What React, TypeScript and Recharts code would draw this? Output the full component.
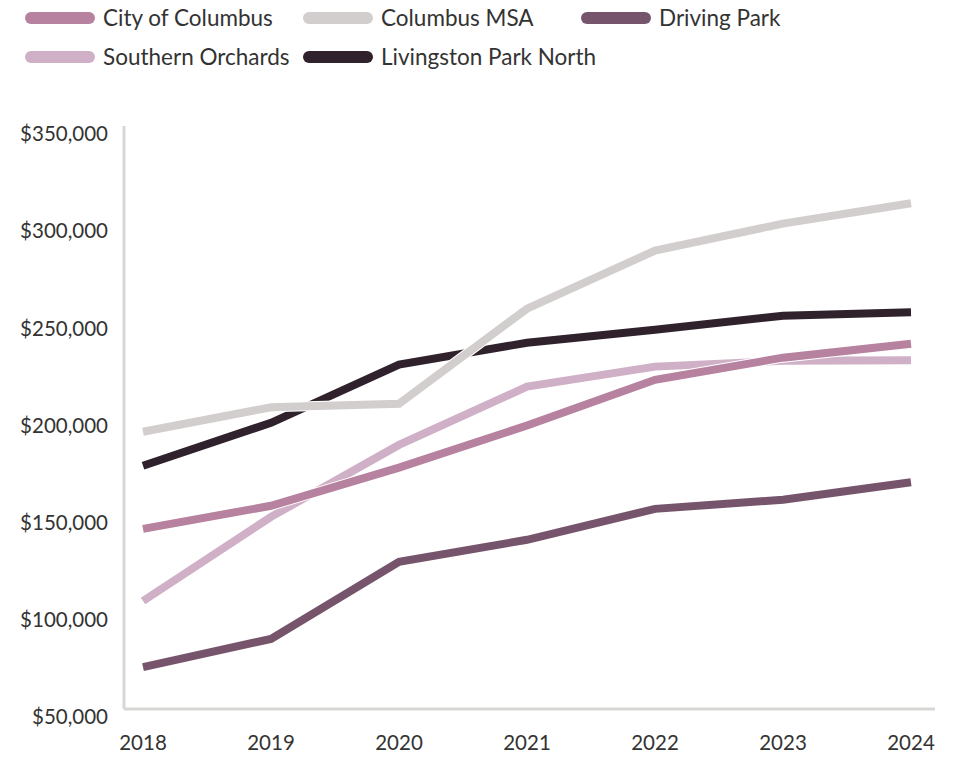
import React from "react";
import { LineChart, Line, XAxis, YAxis } from "recharts";

const years = ["2018", "2019", "2020", "2021", "2022", "2023", "2024"];
const cityOfColumbus = [146800, 158700, 178300, 200000, 223500, 234900, 242100];
const columbusMSA = [196800, 209400, 211200, 260100, 290000, 303900, 314400];
const drivingPark = [75700, 90200, 129800, 141200, 157100, 161800, 170800];
const southernOrchards = [109700, 153000, 190000, 220000, 230300, 233300, 233600];
const livingstonParkNorth = [179300, 201400, 231300, 242600, 249300, 256500, 258300];
const yTicks = [50000, 100000, 150000, 200000, 250000, 300000, 350000];

const series = [
  { key: "city", name: "City of Columbus", values: cityOfColumbus, color: "#b6829f" },
  { key: "msa", name: "Columbus MSA", values: columbusMSA, color: "#d2cecd" },
  { key: "driving", name: "Driving Park", values: drivingPark, color: "#76546c" },
  { key: "southern", name: "Southern Orchards", values: southernOrchards, color: "#cfb0c6" },
  { key: "livingston", name: "Livingston Park North", values: livingstonParkNorth, color: "#2f222d" },
];

const data = years.map((year, i) => {
  const row: Record<string, string | number> = { year };
  series.forEach((s) => {
    row[s.key] = s.values[i];
  });
  return row;
});

const FONT = "Lato, 'Noto Sans', sans-serif";
const TEXT = "#333333";
const AXIS = "#d7d7d3";

const fmt = (v: number) => "$" + v.toLocaleString("en-US");

export default function App() {
  const drawOrder = [...series].reverse();
  return (
    <div style={{ position: "absolute", left: 0, top: 0, width: 959, height: 757, background: "#fff", fontFamily: FONT }}>
      <div
        style={{
          position: "absolute",
          left: 25,
          top: 5,
          width: 840,
          display: "flex",
          flexWrap: "wrap",
          rowGap: 14,
        }}
      >
        {series.map((s) => (
          <div key={s.key} style={{ width: 278, height: 25, display: "flex", alignItems: "center" }}>
            <span
              style={{
                display: "inline-block",
                flex: "0 0 auto",
                width: 70,
                height: 12,
                borderRadius: 6,
                background: s.color,
                marginRight: 8,
              }}
            />
            <span style={{ fontSize: 22.5, color: TEXT, whiteSpace: "nowrap" }}>{s.name}</span>
          </div>
        ))}
      </div>
      <LineChart
        width={959}
        height={757}
        data={data}
        margin={{ top: 134, right: 24, bottom: 0, left: 0 }}
      >
        <XAxis
          dataKey="year"
          height={40}
          padding={{ left: 19, right: 24 }}
          tickLine={false}
          tickMargin={12}
          axisLine={{ stroke: AXIS, strokeWidth: 3, transform: "translate(0,-8)" }}
          tick={{ fill: TEXT, fontSize: 20.5, fontFamily: FONT }}
        />
        <YAxis
          width={124}
          domain={[50000, 350000]}
          ticks={yTicks}
          interval={0}
          tickFormatter={fmt}
          tickLine={false}
          tickMargin={10}
          axisLine={{ stroke: AXIS, strokeWidth: 3, transform: "translate(0,-8)" }}
          tick={{ fill: TEXT, fontSize: 20.5, fontFamily: FONT }}
        />
        {drawOrder.map((s) => [
          <Line
            key={s.key + "-halo"}
            dataKey={s.key}
            stroke="#ffffff"
            strokeWidth={10}
            dot={false}
            activeDot={false}
            strokeLinecap="butt"
            strokeLinejoin="miter"
            isAnimationActive={false}
            legendType="none"
          />,
          <Line
            key={s.key}
            dataKey={s.key}
            name={s.name}
            stroke={s.color}
            strokeWidth={8}
            dot={false}
            activeDot={false}
            strokeLinecap="butt"
            strokeLinejoin="miter"
            isAnimationActive={false}
          />,
        ])}
      </LineChart>
    </div>
  );
}
